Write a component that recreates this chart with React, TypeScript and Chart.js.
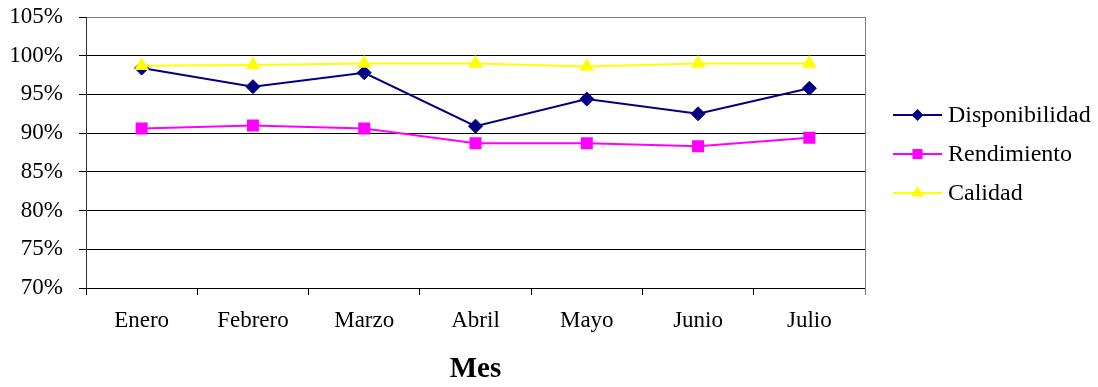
import { useEffect, useRef } from "react";
import { Chart, registerables } from "chart.js";

Chart.register(...registerables);

// Monthly indicators (percent)
const months = ["Enero", "Febrero", "Marzo", "Abril", "Mayo", "Junio", "Julio"];
const disponibilidad = [98.4, 96.0, 97.8, 90.9, 94.4, 92.5, 95.8];
const rendimiento = [90.6, 91.0, 90.6, 88.7, 88.7, 88.3, 89.4];
const calidad = [98.7, 98.8, 99.0, 99.0, 98.6, 99.0, 99.0];

const yMin = 70;
const yMax = 105;
const yStep = 5;

const FONT = "'Liberation Serif', 'Times New Roman', serif";

type Shape = "rectRot" | "rect" | "triangle";

function drawMarker(ctx: CanvasRenderingContext2D, shape: Shape, x: number, y: number, color: string) {
  ctx.save();
  ctx.fillStyle = color;
  ctx.beginPath();
  if (shape === "rectRot") {
    const r = 6;
    ctx.moveTo(x, y - r);
    ctx.lineTo(x + r, y);
    ctx.lineTo(x, y + r);
    ctx.lineTo(x - r, y);
  } else if (shape === "rect") {
    const h = 5;
    ctx.rect(x - h, y - h, 2 * h, 2 * h);
  } else {
    const r = 7;
    ctx.moveTo(x, y - r);
    ctx.lineTo(x + r * 0.866, y + r * 0.5);
    ctx.lineTo(x - r * 0.866, y + r * 0.5);
  }
  ctx.closePath();
  ctx.fill();
  ctx.restore();
}

// Legend drawn to the right of the plot: line sample with marker, then the label
const sideLegend = {
  id: "sideLegend",
  afterDraw(chart: any) {
    const { ctx, chartArea } = chart;
    const x0 = chartArea.right + 28;
    const x1 = x0 + 49;
    chart.data.datasets.forEach((ds: any, i: number) => {
      const y = 115 + i * 39;
      ctx.save();
      ctx.strokeStyle = ds.borderColor;
      ctx.lineWidth = 2;
      ctx.beginPath();
      ctx.moveTo(x0, y);
      ctx.lineTo(x1, y);
      ctx.stroke();
      drawMarker(ctx, ds.pointStyle, (x0 + x1) / 2, y, ds.pointBackgroundColor);
      ctx.fillStyle = "#000";
      ctx.font = `24px ${FONT}`;
      ctx.textBaseline = "middle";
      ctx.textAlign = "left";
      ctx.fillText(ds.label, x1 + 6, y + 1);
      ctx.restore();
    });
  },
};

// Grey frame on the right side of the plot area
const rightFrame = {
  id: "rightFrame",
  afterDatasetsDraw(chart: any) {
    const { ctx, chartArea } = chart;
    ctx.save();
    ctx.strokeStyle = "#808080";
    ctx.lineWidth = 1;
    ctx.beginPath();
    ctx.moveTo(Math.round(chartArea.right) + 0.5, chartArea.top);
    ctx.lineTo(Math.round(chartArea.right) + 0.5, chartArea.bottom + 7);
    ctx.stroke();
    ctx.restore();
  },
};

export default function App() {
  const canvasRef = useRef<HTMLCanvasElement | null>(null);

  useEffect(() => {
    document.body.style.margin = "0";
    const canvas = canvasRef.current;
    if (!canvas) return;
    const chart = new Chart(canvas, {
      type: "line",
      data: {
        labels: months,
        datasets: [
          {
            label: "Disponibilidad",
            data: disponibilidad,
            borderColor: "#000080",
            backgroundColor: "#000080",
            pointBackgroundColor: "#000080",
            pointBorderColor: "#000080",
            pointStyle: "rectRot",
            pointRadius: 7,
            borderWidth: 2,
            pointBorderWidth: 1,
            tension: 0,
            order: 2,
          },
          {
            label: "Rendimiento",
            data: rendimiento,
            borderColor: "#FF00FF",
            backgroundColor: "#FF00FF",
            pointBackgroundColor: "#FF00FF",
            pointBorderColor: "#FF00FF",
            pointStyle: "rect",
            pointRadius: 8.5,
            borderWidth: 2,
            pointBorderWidth: 0,
            tension: 0,
            order: 1,
          },
          {
            label: "Calidad",
            data: calidad,
            borderColor: "#FFFF00",
            backgroundColor: "#FFFF00",
            pointBackgroundColor: "#FFFF00",
            pointBorderColor: "#FFFF00",
            pointStyle: "triangle",
            pointRadius: 8.5,
            borderWidth: 2,
            pointBorderWidth: 0,
            tension: 0,
            order: 0,
          },
        ],
      } as any,
      options: {
        responsive: false,
        animation: false,
        events: [],
        layout: { padding: { top: 17, right: 233, bottom: 0, left: 0 } },
        plugins: {
          legend: { display: false },
          tooltip: { enabled: false },
          title: { display: false },
        },
        scales: {
          x: {
            offset: true,
            grid: {
              offset: true,
              drawOnChartArea: false,
              drawTicks: true,
              tickLength: 7,
              color: "#000",
            },
            border: { color: "#000", width: 1 },
            ticks: {
              color: "#000",
              padding: 12,
              maxRotation: 0,
              font: { family: FONT, size: 23 },
            },
            title: {
              display: true,
              text: "Mes",
              color: "#000",
              font: { family: FONT, size: 29, weight: "bold" },
              padding: { top: 19, bottom: 0 },
            },
            afterFit(scale: any) {
              scale.height = 99;
            },
          },
          y: {
            min: yMin,
            max: yMax,
            grid: {
              color: (ctx: any) => (ctx.tick && ctx.tick.value === yMax ? "#808080" : "#000"),
              tickColor: "#000",
              tickLength: 7,
              lineWidth: 1,
            },
            border: { color: "#333", width: 1 },
            ticks: {
              stepSize: yStep,
              color: "#000",
              padding: 16,
              font: { family: FONT, size: 23 },
              callback: (v: any) => `${v}%`,
            },
            afterFit(scale: any) {
              scale.width = 86;
              scale.paddingTop = 0;
              scale.paddingBottom = 0;
            },
          },
        },
      } as any,
      plugins: [sideLegend, rightFrame],
    });
    return () => chart.destroy();
  }, []);

  return (
    <div style={{ width: 1098, height: 387, background: "#fff" }}>
      <canvas ref={canvasRef} width={1098} height={387} />
    </div>
  );
}
